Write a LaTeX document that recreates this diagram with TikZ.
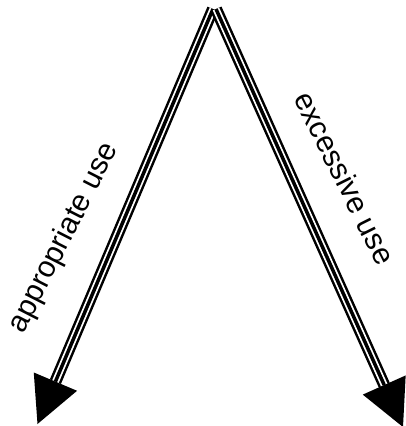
\documentclass[tikz,border=0pt]{standalone}
\usepackage{fontspec}
\setmainfont{Liberation Sans}
\usetikzlibrary{calc}
\begin{document}
\begin{tikzpicture}[x=1pt,y=-1pt,
  tripleline/.style={draw=black, line width=12pt, line cap=butt,
    postaction={draw=white, line width=7pt},
    postaction={draw=black, line width=3.5pt}},
  headfill/.style={fill=black},
  lbl/.style={inner sep=0pt, font=\fontsize{30}{36}\selectfont}]
\useasboundingbox (0,0) rectangle (406,426);
\coordinate (topL) at (213,9);
\coordinate (topR) at (216,9);
\coordinate (tipL) at (37.5,424);
\coordinate (tipR) at (403,427);
\coordinate (baseL) at ($(tipL)!46pt!(topL)$);
\coordinate (baseR) at ($(tipR)!46pt!(topR)$);
\path[tripleline] (topL) -- (baseL);
\path[tripleline] (topR) -- (baseR);
\fill[headfill] (tipL) -- ($(baseL)!23.5pt!90:(tipL)$) -- ($(baseL)!23.5pt!-90:(tipL)$) -- cycle;
\fill[headfill] (tipR) -- ($(baseR)!23.5pt!90:(tipR)$) -- ($(baseR)!23.5pt!-90:(tipR)$) -- cycle;
\node[lbl, rotate=63] (appr) at (64,238) {appropriate use};
\node[lbl, rotate=-63.4] (exc) at (345,178) {excessive use};
\end{tikzpicture}
\end{document}
